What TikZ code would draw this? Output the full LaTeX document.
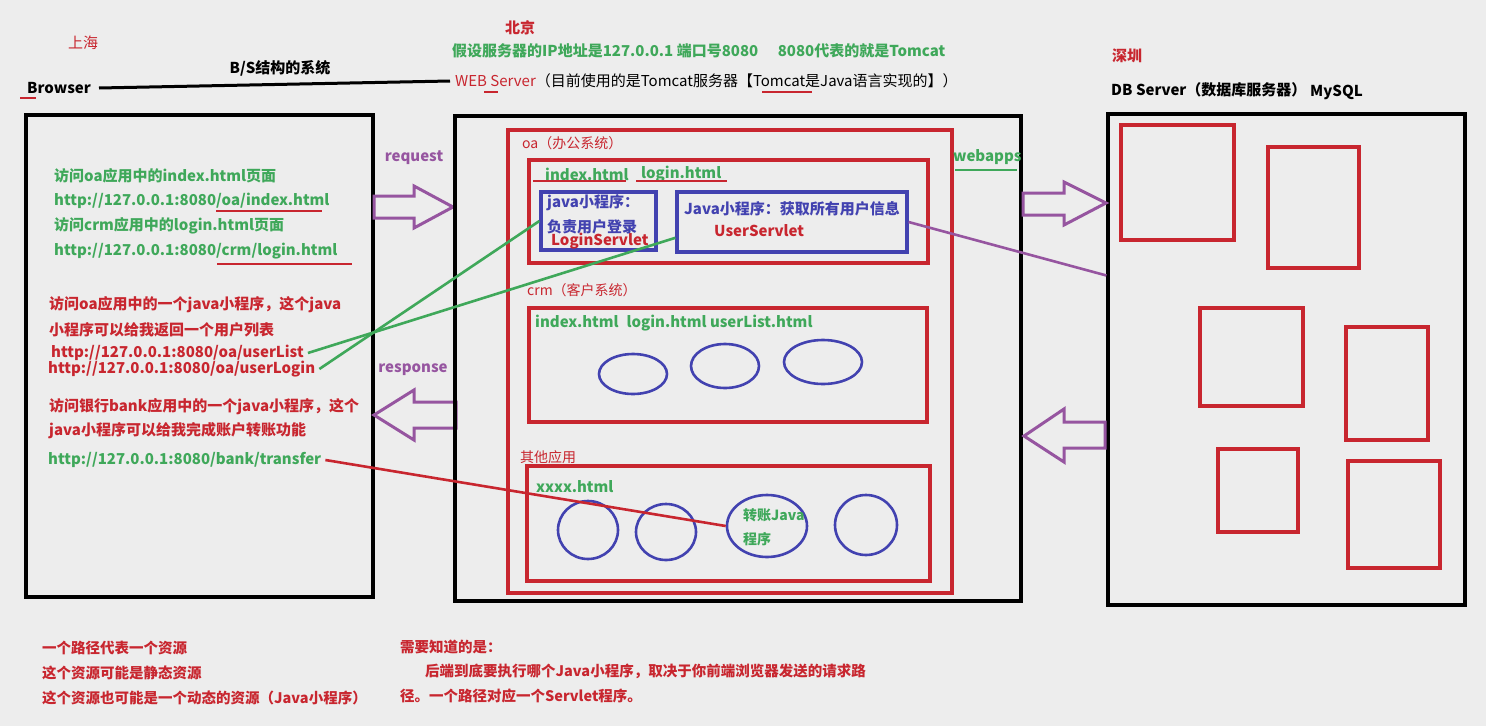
\documentclass[tikz,border=0pt]{standalone}
\usepackage{fontspec}
\setmainfont{Noto Sans CJK SC}
\usetikzlibrary{shapes.geometric,calc}
\definecolor{bgc}{HTML}{EDEDED}
\definecolor{rd}{HTML}{C8262F}
\definecolor{gn}{HTML}{3FA85A}
\definecolor{bl}{HTML}{4242B0}
\definecolor{pp}{HTML}{9655A0}

\begin{document}
\begin{tikzpicture}[x=1pt, y=-1pt,
  txt/.style={anchor=west, inner sep=0, font=\fontsize{15}{15}\selectfont},
  btxt/.style={txt, font=\bfseries\fontsize{15}{15}\selectfont},
  gtxt/.style={btxt, text=gn},
  rtxt/.style={btxt, text=rd},
  bltxt/.style={btxt, text=bl},
  ptxt/.style={btxt, text=pp, anchor=center},
  blackbox/.style={draw=black, line width=3.2, minimum width=#1, inner sep=0},
  redbox/.style={draw=rd, line width=3.2, inner sep=0},
  bluebox/.style={draw=bl, line width=3.2, inner sep=0},
  blob/.style={ellipse, draw=bl, line width=2.6, inner sep=0},
  uline/.style={draw=rd, line width=2.6},
  gline/.style={draw=gn, line width=2.6},
  blockarrow/.style={draw=pp, line width=3, line join=miter}
]
\fill[bgc] (0,0) rectangle (1486,726);
\useasboundingbox (0,0) rectangle (1486,726);

% top captions
\node[txt, text=rd, anchor=center] (shanghai) at (83,43) {上海};
\node[btxt] (browser) at (27,88) {Browser};
\draw[uline] (20,98) -- (36,98);
\node[btxt, anchor=center] (bstitle) at (280,68) {B/S结构的系统};
\node[rtxt, anchor=center] (beijing) at (520,28) {北京};
\node[gtxt] (ipnote) at (452,51) {假设服务器的IP地址是127.0.0.1 端口号8080\hspace{1.3em}8080代表的就是Tomcat};
\node[txt] (websrv) at (455,81) {\textcolor{rd}{WEB Server}（目前使用的是Tomcat服务器【Tomcat是Java语言实现的】）};
\draw[uline] (484,92) -- (498,92);
\draw[uline] (762,92) -- (812,92);
\draw[line width=3] ([xshift=8]browser.east) -- ([xshift=-5]websrv.west);
\node[rtxt, anchor=center] (shenzhen) at (1127,56) {深圳};
\node[btxt] (dbtitle) at (1111,90) {DB Server（数据库服务器）};
\node[btxt] (mysql) at (1310,92) {MySQL};

% browser
\node[blackbox=347, minimum height=482] (browserbox) at (199.5,356) {};
\node[gtxt] (q1) at (54,176) {访问oa应用中的index.html页面};
\node[gtxt] (url1) at (54,201) {http://127.0.0.1:8080/oa/index.html};
\draw[uline] (216,211) -- (322,211);
\node[gtxt] (q2) at (54,226) {访问crm应用中的login.html页面};
\node[gtxt] (url2) at (54,251) {http://127.0.0.1:8080/crm/login.html};
\draw[uline] (217,264) -- (352,264);
\node[rtxt] (q3) at (49,305) {访问oa应用中的一个java小程序，这个java};
\node[rtxt] (q3b) at (49,330) {小程序可以给我返回一个用户列表};
\node[rtxt] (urllist) at (51,353) {http://127.0.0.1:8080/oa/userList};
\node[rtxt] (urllogin) at (48,369) {http://127.0.0.1:8080/oa/userLogin};
\node[rtxt] (q4) at (49,407) {访问银行bank应用中的一个java小程序，这个};
\node[rtxt] (q4b) at (49,431) {java小程序可以给我完成账户转账功能};
\node[gtxt] (urlbank) at (48,460) {http://127.0.0.1:8080/bank/transfer};

% request / response
\node[ptxt] (request) at (414,158) {request};
\draw[blockarrow] (374,196) -- (414,196) -- (414,186) -- (453,207) -- (414,228) -- (414,218) -- (374,218) -- cycle;
\node[ptxt] (response) at (413,370) {response};
\draw[blockarrow] (456,402) -- (414,402) -- (414,390) -- (374,415) -- (414,440) -- (414,428) -- (456,428) -- cycle;

% web server
\node[blackbox=566, minimum height=485] (serverbox) at (738,358.5) {};
\node[redbox, minimum width=444, minimum height=463] (webapps) at (730,361.5) {};
\node[gtxt] (webappslbl) at (953,157) {webapps};
\draw[gline] (955,170) -- (1017,170);

% oa
\node[txt, text=rd, font=\fontsize{14}{14}\selectfont] (oalbl) at (522,143) {oa（办公系统）};
\node[redbox, minimum width=399, minimum height=103] (oabox) at (728.5,211.5) {};
\node[gtxt] (oaindex) at (545,174) {index.html};
\node[gtxt] (oalogin) at (641,174) {login.html};
\draw[uline] (533,181) -- (626,181);
\draw[uline] (636,181) -- (727,181);
\node[bluebox, minimum width=115, minimum height=58] (loginsv) at (598.5,221) {};
\node[bltxt] (loginsv1) at (547,203) {java小程序：};
\node[bltxt] (loginsv2) at (547,227) {负责用户登录};
\node[rtxt] (loginsvname) at (551,241) {LoginServlet};
\node[bluebox, minimum width=230, minimum height=60] (usersv) at (792,222) {};
\node[bltxt] (usersv1) at (684,209) {Java小程序：获取所有用户信息};
\node[rtxt] (usersvname) at (714,231) {UserServlet};

% crm
\node[txt, text=rd, font=\fontsize{14}{14}\selectfont] (crmlbl) at (527,290) {crm（客户系统）};
\node[redbox, minimum width=398, minimum height=114] (crmbox) at (728,365) {};
\node[gtxt] (crmpages) at (535,323) {index.html\hspace{0.3em} login.html userList.html};
\node[blob, minimum width=68, minimum height=40] (crm1) at (633,374) {};
\node[blob, minimum width=68, minimum height=44] (crm2) at (725,366) {};
\node[blob, minimum width=78, minimum height=44] (crm3) at (823,362) {};

% other apps
\node[txt, text=rd, font=\fontsize{14}{14}\selectfont] (otherlbl) at (520,457) {其他应用};
\node[redbox, minimum width=403, minimum height=115] (otherbox) at (728.5,523.5) {};
\node[gtxt] (xxxx) at (536,487) {xxxx.html};
\node[blob, minimum width=60, minimum height=58] (app1) at (588,530) {};
\node[blob, minimum width=60, minimum height=56] (app2) at (666,532) {};
\node[blob, minimum width=80, minimum height=62] (transfer) at (767,526) {};
\node[blob, minimum width=62, minimum height=60] (app4) at (866,525) {};
\node[gtxt, align=left, font=\bfseries\fontsize{14}{24}\selectfont] (transferlbl) at (743,527) {转账Java\\程序};

% db server
\node[blackbox=357, minimum height=491] (dbbox) at (1286.5,359.5) {};
\node[redbox, minimum width=113, minimum height=115] (t1) at (1177.5,182.5) {};
\node[redbox, minimum width=91, minimum height=121] (t2) at (1313.5,207.5) {};
\node[redbox, minimum width=103, minimum height=98] (t3) at (1251.5,357) {};
\node[redbox, minimum width=82, minimum height=113] (t4) at (1387,383.5) {};
\node[redbox, minimum width=80, minimum height=83] (t5) at (1258,490.5) {};
\node[redbox, minimum width=92, minimum height=107] (t6) at (1394,514.5) {};
\draw[blockarrow] (1023,193) -- (1064,193) -- (1064,182) -- (1106,203) -- (1064,225) -- (1064,215) -- (1023,215) -- cycle;
\draw[blockarrow] (1105,422) -- (1064,422) -- (1064,409) -- (1024,436) -- (1064,462) -- (1064,448) -- (1105,448) -- cycle;

% connectors
\draw[gline] ([xshift=4]urllist.east) -- ($(usersv.south west)!0.25!(usersv.north west)$);
\draw[gline] ([xshift=4]urllogin.east) -- (loginsv.west);
\draw[draw=pp, line width=2.6] (usersv.east) -- ($(dbbox.north west)!0.33!(dbbox.south west)$);
\draw[draw=rd, line width=2.6] ([xshift=4]urlbank.east) -- (transfer.west);

% notes
\node[rtxt, font=\bfseries\fontsize{14.5}{14.5}\selectfont] (n1) at (42,648) {一个路径代表一个资源};
\node[rtxt, font=\bfseries\fontsize{14.5}{14.5}\selectfont] (n2) at (42,673) {这个资源可能是静态资源};
\node[rtxt, font=\bfseries\fontsize{14.5}{14.5}\selectfont] (n3) at (42,698) {这个资源也可能是一个动态的资源（Java小程序）};
\node[rtxt, font=\bfseries\fontsize{14.5}{14.5}\selectfont] (n4) at (400,647) {需要知道的是：};
\node[rtxt, font=\bfseries\fontsize{14.5}{14.5}\selectfont] (n5) at (425,671) {后端到底要执行哪个Java小程序，取决于你前端浏览器发送的请求路};
\node[rtxt, font=\bfseries\fontsize{14.5}{14.5}\selectfont] (n6) at (400,696) {径。一个路径对应一个Servlet程序。};
\end{tikzpicture}
\end{document}
